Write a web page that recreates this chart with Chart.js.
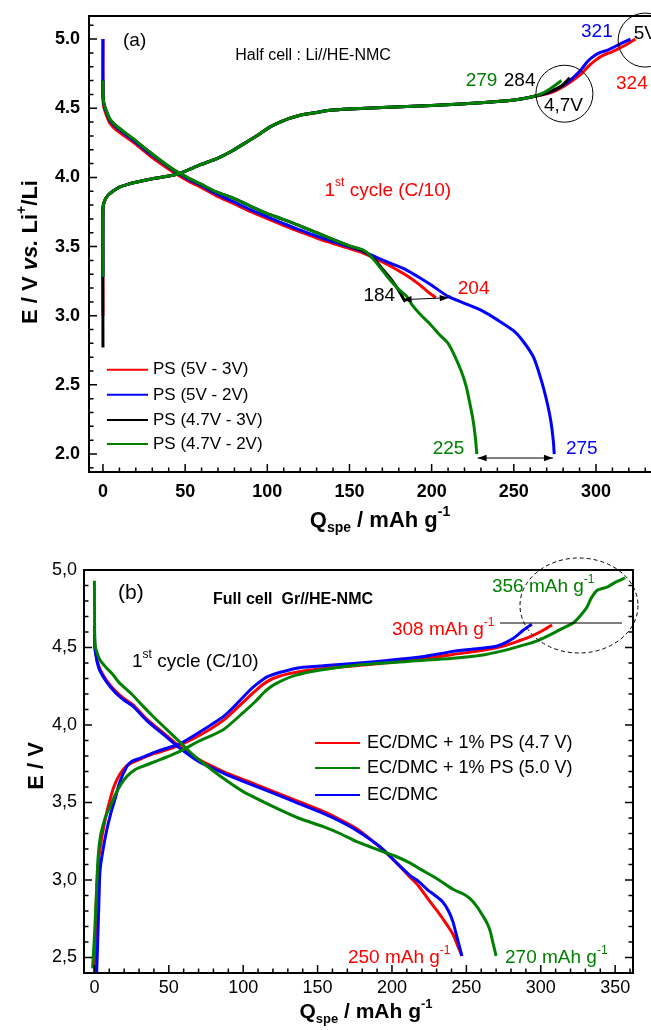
<!DOCTYPE html>
<html lang="en">
<head>
<meta charset="utf-8" />
<title>HE-NMC first cycle</title>
<script src="https://cdn.jsdelivr.net/npm/chart.js@4.4.1/dist/chart.umd.min.js"></script>
<style>
  html, body { margin: 0; padding: 0; background: #fff; overflow: hidden; }
  #wrap { position: relative; width: 651px; height: 1030px; overflow: hidden; }
  #chartA { position: absolute; left: 0; top: 0; }
  #chartB { position: absolute; left: 0; top: 545px; }
</style>
</head>
<body>
<div id="wrap">
  <canvas id="chartA" width="700" height="545"></canvas>
  <canvas id="chartB" width="651" height="485"></canvas>
</div>
<script>
// ---------- data, panel (a): half cell Li//HE-NMC ----------
// charge branch shared by the four cells, then each one's end
const chgQ_a = [0, 1, 3, 6, 10, 15, 20, 30, 40, 47, 59, 70, 79, 88, 96, 101, 106, 113, 120, 130, 138, 150, 170, 200, 230, 250, 262];
const chgV_a = [3.78, 3.83, 3.87, 3.90, 3.93, 3.95, 3.965, 3.99, 4.01, 4.03, 4.09, 4.14, 4.195, 4.26, 4.32, 4.36, 4.39, 4.425, 4.45, 4.47, 4.485, 4.495, 4.505, 4.52, 4.54, 4.56, 4.585];
const startV_a = { red: 3.0, blue: 3.28, black: 2.77, green: 3.28 };
const tailQ_red_a = [270, 276, 282, 288, 292, 296, 300, 304, 310, 317, 324];
const tailV_red_a = [4.605, 4.63, 4.67, 4.72, 4.76, 4.81, 4.85, 4.88, 4.91, 4.95, 5.0];
const tailQ_blue_a = [270, 276, 282, 287, 291, 295, 299, 303, 307, 313, 321];
const tailV_blue_a = [4.61, 4.64, 4.68, 4.73, 4.78, 4.84, 4.88, 4.905, 4.92, 4.955, 5.0];
const tailQ_black_a = [270, 276, 280, 284];
const tailV_black_a = [4.61, 4.64, 4.67, 4.72];
const tailQ_green_a = [266, 272, 279];
const tailV_green_a = [4.60, 4.64, 4.70];

// discharge branches
const dchQ_blue_a = [0, 0, 0.5, 2.4, 4.3, 8.3, 18.3, 28.7, 38.8, 45.8, 52, 59, 69, 79.3, 90, 99.6, 110, 119.9, 130, 140.2, 148, 156.4, 163, 170.6, 177, 184.8, 192, 200, 210, 220, 230, 240, 250, 256, 262, 265, 268, 270.5, 272.5, 274, 274.6];
const dchV_blue_a = [5.0, 4.60, 4.53, 4.46, 4.41, 4.36, 4.27, 4.17, 4.085, 4.03, 3.985, 3.945, 3.88, 3.825, 3.765, 3.716, 3.665, 3.62, 3.575, 3.535, 3.505, 3.475, 3.44, 3.40, 3.37, 3.33, 3.28, 3.22, 3.14, 3.09, 3.04, 2.97, 2.89, 2.81, 2.70, 2.60, 2.48, 2.36, 2.24, 2.10, 2.0];
const dchQ_red_a = [0, 0, 0.5, 2.4, 4.3, 8.3, 18.3, 28.7, 38.8, 45.8, 52, 59, 69, 79.3, 90, 99.6, 110, 119.9, 130, 140.2, 148, 156.4, 163, 170.6, 177, 184.8, 192, 197, 202.5];
const dchV_red_a = [5.0, 4.58, 4.51, 4.44, 4.39, 4.34, 4.255, 4.155, 4.07, 4.015, 3.972, 3.932, 3.867, 3.812, 3.752, 3.703, 3.652, 3.607, 3.562, 3.522, 3.492, 3.462, 3.428, 3.385, 3.345, 3.29, 3.23, 3.18, 3.13];
const dchQ_black_a = [0, 0, 0.5, 2.4, 4.3, 8.3, 18.3, 28.7, 38.8, 45.8, 52, 59, 69, 79.3, 90, 99.6, 110, 119.9, 130, 140.2, 150, 158.4, 163, 166.5, 170.6, 174.6, 179, 184];
const dchV_black_a = [4.70, 4.60, 4.54, 4.47, 4.42, 4.37, 4.28, 4.18, 4.09, 4.035, 3.995, 3.955, 3.895, 3.85, 3.79, 3.74, 3.695, 3.65, 3.60, 3.55, 3.505, 3.47, 3.43, 3.39, 3.33, 3.275, 3.20, 3.10];
const dchQ_green_a = [0, 0, 0.5, 2.4, 4.3, 8.3, 18.3, 28.7, 38.8, 45.8, 52, 59, 69, 79.3, 90, 99.6, 110, 119.9, 130, 140.2, 150, 158.4, 163, 166.5, 170.6, 174.6, 180, 184.8, 188, 193, 199, 205, 210, 214, 218, 221, 223, 225, 226.5, 227.5];
const dchV_green_a = [4.70, 4.60, 4.54, 4.47, 4.42, 4.37, 4.28, 4.18, 4.09, 4.035, 3.995, 3.955, 3.895, 3.85, 3.79, 3.74, 3.695, 3.65, 3.60, 3.55, 3.505, 3.475, 3.43, 3.38, 3.32, 3.26, 3.19, 3.14, 3.08, 3.01, 2.94, 2.86, 2.80, 2.71, 2.60, 2.49, 2.38, 2.26, 2.13, 2.0];

const namesA = ['PS (5V - 3V)', 'PS (5V - 2V)', 'PS (4.7V - 3V)', 'PS (4.7V - 2V)'];

// ---------- data, panel (b): full cell Gr//HE-NMC ----------
const chgQ_red_b = [0, 0.8, 1.6, 2.5, 4, 7, 10, 13, 17, 21, 26, 32, 40, 50, 57.5, 72, 86.6, 97, 107, 113, 120, 130, 145, 160, 190, 220, 241, 260, 275, 286, 293, 299.5, 304, 307.6];
const chgV_red_b = [2.40, 2.70, 2.95, 3.10, 3.22, 3.38, 3.50, 3.60, 3.68, 3.73, 3.76, 3.785, 3.815, 3.845, 3.87, 3.94, 4.03, 4.12, 4.21, 4.26, 4.30, 4.33, 4.355, 4.37, 4.395, 4.425, 4.455, 4.48, 4.51, 4.545, 4.57, 4.60, 4.625, 4.645];
const chgQ_green_b = [-1.2, -0.5, 0.3, 1.5, 2.5, 4, 6, 8, 10.4, 14, 18, 22, 27, 33, 45, 57.5, 70, 86.6, 100, 108, 115.8, 122.6, 135, 152, 180, 210, 241, 260, 275, 290, 298, 308, 315, 322, 327, 331, 334, 338, 344.6, 350, 356.7];
const chgV_green_b = [2.43, 2.55, 2.69, 2.95, 3.15, 3.28, 3.36, 3.42, 3.47, 3.55, 3.62, 3.67, 3.71, 3.735, 3.78, 3.83, 3.895, 3.97, 4.08, 4.15, 4.226, 4.27, 4.32, 4.355, 4.39, 4.41, 4.43, 4.45, 4.48, 4.52, 4.545, 4.59, 4.625, 4.66, 4.71, 4.76, 4.82, 4.87, 4.89, 4.92, 4.95];
const chgQ_blue_b = [1.5, 2.2, 3, 3.7, 5, 8, 11, 13.8, 17, 21.7, 25, 30.6, 42, 57.5, 70, 86.6, 95, 104.6, 110, 116, 125, 138, 158, 190, 220, 241, 260, 270.7, 277, 281.6, 285, 288, 291, 294];
const chgV_blue_b = [2.40, 2.60, 2.85, 3.05, 3.15, 3.31, 3.43, 3.52, 3.63, 3.73, 3.765, 3.785, 3.83, 3.88, 3.95, 4.054, 4.13, 4.226, 4.27, 4.31, 4.34, 4.37, 4.385, 4.41, 4.44, 4.475, 4.495, 4.51, 4.535, 4.56, 4.585, 4.61, 4.63, 4.65];

const dchQ_red_b = [0, 0.3, 1, 2, 3.7, 8, 14, 20, 26, 35, 48.7, 57.5, 70, 86.6, 103, 120.2, 137, 153.8, 165, 176.3, 192, 203, 212, 218, 225.6, 232, 237, 241, 244, 247];
const dchV_red_b = [4.62, 4.50, 4.46, 4.41, 4.36, 4.29, 4.22, 4.17, 4.13, 4.04, 3.93, 3.86, 3.778, 3.70, 3.637, 3.572, 3.507, 3.442, 3.39, 3.33, 3.21, 3.11, 3.02, 2.96, 2.86, 2.78, 2.71, 2.65, 2.58, 2.51];
const dchQ_green_b = [0, 0.1, 0.3, 1, 2, 3.7, 8, 12, 17, 25, 32.8, 40, 48.7, 57.5, 66, 75, 86.6, 100, 120.2, 137, 153.8, 165, 176.3, 192, 203.2, 212, 219, 230, 241, 248, 252.5, 257, 261, 264, 266, 268, 270];
const dchV_green_b = [4.93, 4.70, 4.53, 4.49, 4.46, 4.42, 4.37, 4.33, 4.27, 4.20, 4.12, 4.05, 3.97, 3.89, 3.81, 3.74, 3.656, 3.57, 3.473, 3.40, 3.344, 3.30, 3.247, 3.19, 3.15, 3.11, 3.07, 3.01, 2.94, 2.91, 2.88, 2.83, 2.77, 2.72, 2.67, 2.59, 2.51];
const dchQ_blue_b = [0, 0.3, 1, 2, 3.7, 8, 14, 20, 26, 35, 48.7, 57.5, 70, 86.6, 103, 120.2, 137, 153.8, 165, 176.3, 192, 203.2, 212, 218, 223.6, 229, 234, 238, 241, 244, 247];
const dchV_blue_b = [4.64, 4.50, 4.45, 4.40, 4.35, 4.28, 4.21, 4.16, 4.12, 4.03, 3.92, 3.85, 3.765, 3.69, 3.625, 3.56, 3.495, 3.43, 3.38, 3.32, 3.215, 3.11, 3.03, 2.99, 2.94, 2.90, 2.86, 2.80, 2.73, 2.62, 2.51];

const namesB = ['EC/DMC + 1% PS (4.7 V)', 'EC/DMC + 1% PS (5.0 V)', 'EC/DMC'];

// ---------- axes ----------
const xTicksA = [0, 50, 100, 150, 200, 250, 300];
const yTicksA = [2.0, 2.5, 3.0, 3.5, 4.0, 4.5, 5.0];
const yLabelsA = ['2.0', '2.5', '3.0', '3.5', '4.0', '4.5', '5.0'];
const xTicksB = [0, 50, 100, 150, 200, 250, 300, 350];
const yTicksB = [2.5, 3.0, 3.5, 4.0, 4.5, 5.0];
const yLabelsB = ['2,5', '3,0', '3,5', '4,0', '4,5', '5,0'];

const RED = '#ff0000', BLUE = '#0000ff', BLACK = '#000000', GREEN = '#008000';
const FONT = "'Liberation Sans', Arial, sans-serif";

function zip(q, v) {
  return q.map((x, i) => ({ x: x, y: v[i] }));
}

function curve(q, v, color) {
  return {
    data: zip(q, v),
    borderColor: color,
    backgroundColor: color,
    borderWidth: 3,
    pointRadius: 0,
    showLine: true,
    fill: false,
    tension: 0.25
  };
}

// text with sub/superscript pieces
function rich(ctx, parts, x, y, size, weight, color, align) {
  const fontOf = p => (p.it ? 'italic ' : '') + weight + ' ' +
    Math.round(p.sup || p.sub ? size * 0.62 : size) + 'px ' + FONT;
  let w = 0;
  parts.forEach(p => { ctx.font = fontOf(p); w += ctx.measureText(p.t).width; });
  let cx = align === 'center' ? x - w / 2 : (align === 'right' ? x - w : x);
  ctx.fillStyle = color;
  ctx.textAlign = 'left';
  ctx.textBaseline = 'middle';
  parts.forEach(p => {
    ctx.font = fontOf(p);
    const dy = p.sup ? -size * 0.38 : (p.sub ? size * 0.34 : 0);
    ctx.fillText(p.t, cx, y + dy);
    cx += ctx.measureText(p.t).width;
  });
}

function arrowHead(ctx, x0, y0, x1, y1) {
  const ang = Math.atan2(y1 - y0, x1 - x0), L = 9, W = 3.2;
  ctx.beginPath();
  ctx.moveTo(x1, y1);
  ctx.lineTo(x1 - L * Math.cos(ang) + W * Math.sin(ang), y1 - L * Math.sin(ang) - W * Math.cos(ang));
  ctx.lineTo(x1 - L * Math.cos(ang) - W * Math.sin(ang), y1 - L * Math.sin(ang) + W * Math.cos(ang));
  ctx.closePath();
  ctx.fill();
}

function frame(cfg) {
  return {
    id: 'frame',
    afterDatasetsDraw(chart) {
      const ctx = chart.ctx, a = chart.chartArea;
      const xs = chart.scales.x, ys = chart.scales.y;
      const P = (q, v) => [xs.getPixelForValue(q), ys.getPixelForValue(v)];
      ctx.save();
      ctx.strokeStyle = '#000';
      ctx.lineWidth = 2;
      ctx.strokeRect(a.left, a.top, a.right - a.left, a.bottom - a.top);

      // inward ticks, minor every 10 / 0.1
      ctx.lineWidth = 1.5;
      ctx.beginPath();
      for (let k = Math.ceil(xs.min / 10); k * 10 <= xs.max; k++) {
        const px = xs.getPixelForValue(k * 10);
        const len = k % 5 === 0 ? 8 : 4.5;
        ctx.moveTo(px, a.bottom); ctx.lineTo(px, a.bottom - len);
      }
      for (let k = Math.ceil(ys.min * 10 - 1e-6); k <= ys.max * 10 + 1e-6; k++) {
        const py = ys.getPixelForValue(k / 10);
        const len = k % 5 === 0 ? 8 : 4.5;
        ctx.moveTo(a.left, py); ctx.lineTo(a.left + len, py);
        if (cfg.rightTicks) { ctx.moveTo(a.right, py); ctx.lineTo(a.right - len, py); }
      }
      ctx.stroke();

      // tick labels
      ctx.fillStyle = '#000';
      ctx.font = cfg.tickFont;
      ctx.textBaseline = 'middle';
      ctx.textAlign = 'center';
      cfg.xTicks.forEach(t => ctx.fillText(String(t), xs.getPixelForValue(t), a.bottom + cfg.xLabelGap));
      ctx.textAlign = 'right';
      cfg.yTicks.forEach((t, i) => ctx.fillText(cfg.yLabels[i], a.left - cfg.yLabelGap, ys.getPixelForValue(t)));

      cfg.extra(ctx, a, P);
      ctx.restore();
    }
  };
}

function makeChart(id, datasets, xr, yr, pad, cfg) {
  return new Chart(document.getElementById(id), {
    type: 'scatter',
    data: { datasets: datasets },
    options: {
      responsive: false,
      animation: false,
      devicePixelRatio: 1,
      layout: { padding: pad },
      plugins: { legend: { display: false }, tooltip: { enabled: false } },
      scales: {
        x: { type: 'linear', display: false, min: xr[0], max: xr[1] },
        y: { type: 'linear', display: false, min: yr[0], max: yr[1] }
      }
    },
    plugins: [frame(cfg)]
  });
}

// ---------- panel (a) ----------
const colorsA = [RED, BLUE, BLACK, GREEN];
const keysA = ['red', 'blue', 'black', 'green'];
const tailsA = {
  red: [tailQ_red_a, tailV_red_a], blue: [tailQ_blue_a, tailV_blue_a],
  black: [tailQ_black_a, tailV_black_a], green: [tailQ_green_a, tailV_green_a]
};
const dchA = {
  red: [dchQ_red_a, dchV_red_a], blue: [dchQ_blue_a, dchV_blue_a],
  black: [dchQ_black_a, dchV_black_a], green: [dchQ_green_a, dchV_green_a]
};
const setsA = [];
// first dataset is painted on top: green, black, blue, red
[3, 2, 1, 0].forEach(i => {
  const k = keysA[i];
  const q = [0].concat(chgQ_a, tailsA[k][0]);
  const v = [startV_a[k]].concat(chgV_a, tailsA[k][1]);
  setsA.push(curve(q, v, colorsA[i]));
  setsA.push(curve(dchA[k][0], dchA[k][1], colorsA[i]));
});

makeChart('chartA', setsA, [-8.5, 342], [1.87, 5.167],
  { left: 89, top: 16, right: 35, bottom: 73 },
  {
    xTicks: xTicksA, yTicks: yTicksA, yLabels: yLabelsA,
    tickFont: 'bold 18px ' + FONT, xLabelGap: 20, yLabelGap: 9, rightTicks: false,
    extra(ctx, a, P) {
      // axis titles
      rich(ctx, [{ t: 'Q' }, { t: 'spe', sub: true }, { t: ' / mAh g' }, { t: '-1', sup: true }],
        380, 521, 22, 'bold', '#000', 'center');
      ctx.save();
      ctx.translate(31, 252);
      ctx.rotate(-Math.PI / 2);
      rich(ctx, [{ t: 'E / V ' }, { t: 'vs.', it: true }, { t: ' Li' }, { t: '+', sup: true }, { t: '/Li' }],
        0, 0, 22, 'bold', '#000', 'center');
      ctx.restore();

      const notes = [
        [12.2, 4.99, [{ t: '(a)' }], 19, BLACK],
        [80.5, 4.884, [{ t: 'Half cell : Li//HE-NMC' }], 16, BLACK],
        [134.8, 3.906, [{ t: '1' }, { t: 'st', sup: true }, { t: ' cycle (C/10)' }], 19, RED],
        [220.7, 4.70, [{ t: '279' }], 19, GREEN],
        [243.9, 4.70, [{ t: '284' }], 19, BLACK],
        [268.3, 4.52, [{ t: '4,7V' }], 19, BLACK],
        [323, 5.04, [{ t: '5V' }], 19, BLACK],
        [290.9, 5.05, [{ t: '321' }], 19, BLUE],
        [312.2, 4.68, [{ t: '324' }], 19, RED],
        [158.5, 3.145, [{ t: '184' }], 19, BLACK],
        [215.9, 3.196, [{ t: '204' }], 19, RED],
        [200.6, 2.036, [{ t: '225' }], 19, GREEN],
        [281.7, 2.036, [{ t: '275' }], 19, BLUE]
      ];
      notes.forEach(n => {
        const p = P(n[0], n[1]);
        rich(ctx, n[2], p[0], p[1], n[3], 'normal', n[4], 'left');
      });

      // circles around the cut-off voltages
      ctx.strokeStyle = '#000';
      ctx.lineWidth = 1;
      [[280.8, 4.605, 28.5], [329.9, 4.993, 27]].forEach(c => {
        const p = P(c[0], c[1]);
        ctx.beginPath();
        ctx.arc(p[0], p[1], c[2], 0, Math.PI * 2);
        ctx.stroke();
      });

      // double arrows
      ctx.fillStyle = '#000';
      [[182.3, 3.116, 210.4, 3.13], [228, 1.971, 273.8, 1.971]].forEach(r => {
        const p0 = P(r[0], r[1]), p1 = P(r[2], r[3]);
        ctx.beginPath();
        ctx.moveTo(p0[0], p0[1]); ctx.lineTo(p1[0], p1[1]);
        ctx.stroke();
        arrowHead(ctx, p0[0], p0[1], p1[0], p1[1]);
        arrowHead(ctx, p1[0], p1[1], p0[0], p0[1]);
      });

      // legend
      const legV = [2.609, 2.428, 2.246, 2.072];
      namesA.forEach((name, i) => {
        const p0 = P(2.4, legV[i]), p1 = P(27.4, legV[i]);
        ctx.strokeStyle = colorsA[i];
        ctx.lineWidth = 2;
        ctx.beginPath();
        ctx.moveTo(p0[0], p0[1]); ctx.lineTo(p1[0], p1[1]);
        ctx.stroke();
        rich(ctx, [{ t: name }], p1[0] + 5, p1[1], 17, 'normal', BLACK, 'left');
      });
    }
  });

// ---------- panel (b) ----------
const colorsB = [RED, GREEN, BLUE];
const setsB = [
  curve(chgQ_green_b, chgV_green_b, GREEN),
  curve(dchQ_green_b, dchV_green_b, GREEN),
  curve(chgQ_blue_b, chgV_blue_b, BLUE),
  curve(dchQ_blue_b, dchV_blue_b, BLUE),
  curve(chgQ_red_b, chgV_red_b, RED),
  curve(dchQ_red_b, dchV_red_b, RED)
];

makeChart('chartB', setsB, [-7, 362], [2.4, 5.0],
  { left: 84, top: 25, right: 18, bottom: 57 },
  {
    xTicks: xTicksB, yTicks: yTicksB, yLabels: yLabelsB,
    tickFont: 'normal 18px ' + FONT, xLabelGap: 15, yLabelGap: 7, rightTicks: true,
    extra(ctx, a, P) {
      rich(ctx, [{ t: 'Q' }, { t: 'spe', sub: true }, { t: ' / mAh g' }, { t: '-1', sup: true }],
        366, 467, 21, 'bold', '#000', 'center');
      ctx.save();
      ctx.translate(37, 221);
      ctx.rotate(-Math.PI / 2);
      rich(ctx, [{ t: 'E / V' }], 0, 0, 22, 'bold', '#000', 'center');
      ctx.restore();

      const gUnit = [{ t: ' mAh g' }, { t: '-1', sup: true }];
      const notes = [
        [15.9, 4.852, [{ t: '(b)' }], 21, 'normal', BLACK],
        [79.7, 4.806, [{ t: 'Full cell  Gr//HE-NMC' }], 16, 'bold', BLACK],
        [25.3, 4.406, [{ t: '1' }, { t: 'st', sup: true }, { t: ' cycle (C/10)' }], 19, 'normal', BLACK],
        [267.2, 4.89, [{ t: '356' }].concat(gUnit), 19, 'normal', GREEN],
        [200, 4.613, [{ t: '308' }].concat(gUnit), 19, 'normal', RED],
        [170.4, 2.497, [{ t: '250' }].concat(gUnit), 19, 'normal', RED],
        [276, 2.497, [{ t: '270' }].concat(gUnit), 19, 'normal', GREEN]
      ];
      notes.forEach(n => {
        const p = P(n[0], n[1]);
        rich(ctx, n[2], p[0], p[1], n[3], n[4], n[5], 'left');
      });

      // 4.65 V marker line and dashed ellipse
      ctx.strokeStyle = '#000';
      ctx.lineWidth = 1;
      const h0 = P(272.6, 4.658), h1 = P(354.6, 4.658);
      ctx.beginPath();
      ctx.moveTo(h0[0], h0[1]); ctx.lineTo(h1[0], h1[1]);
      ctx.stroke();
      const c = P(325.7, 4.771);
      ctx.setLineDash([4, 3]);
      ctx.beginPath();
      ctx.ellipse(c[0], c[1], 59, 47.5, 0, 0, Math.PI * 2);
      ctx.stroke();
      ctx.setLineDash([]);

      // legend
      const legV = [3.884, 3.723, 3.548];
      namesB.forEach((name, i) => {
        const p0 = P(148.3, legV[i]), p1 = P(178.5, legV[i]);
        ctx.strokeStyle = colorsB[i];
        ctx.lineWidth = 2;
        ctx.beginPath();
        ctx.moveTo(p0[0], p0[1]); ctx.lineTo(p1[0], p1[1]);
        ctx.stroke();
        rich(ctx, [{ t: name }], p1[0] + 7, p1[1], 18, 'normal', BLACK, 'left');
      });
    }
  });
</script>
</body>
</html>
